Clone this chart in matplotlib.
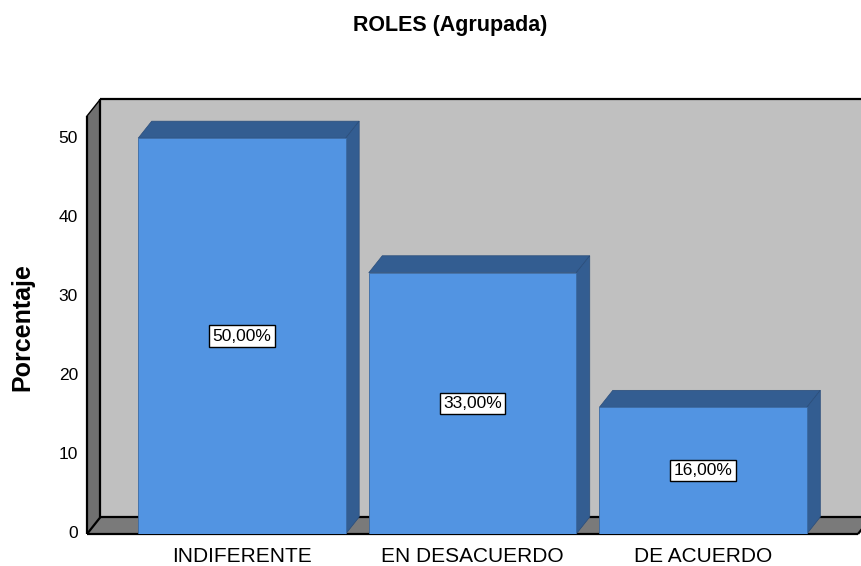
import matplotlib
matplotlib.use("Agg")
import matplotlib.pyplot as plt
from matplotlib.patches import Polygon

categories = ["INDIFERENTE", "EN DESACUERDO", "DE ACUERDO"]
values = [50.0, 33.0, 16.0]
value_labels = ["50,00%", "33,00%", "16,00%"]
yticks = [0, 10, 20, 30, 40, 50]
title = "ROLES (Agrupada)"
ylabel = "Porcentaje"

W, H, DPI = 861, 566, 100
fig = plt.figure(figsize=(W / DPI, H / DPI), dpi=DPI)
plt.rcParams['font.family'] = ['Liberation Sans', 'DejaVu Sans']

# front plane of the 3D box
left_px, right_px = 87, 858
bottom_px, top_px = 534, 116
ax = fig.add_axes([left_px / W, (H - bottom_px) / H,
                   (right_px - left_px) / W, (bottom_px - top_px) / H])
xmin, xmax = -0.672, 2.672
ymin, ymax = 0, 52.8
ax.set_xlim(xmin, xmax)
ax.set_ylim(ymin, ymax)
ax.axis("off")

# depth offset (pixels -> data units)
dpx, dpy = 13.5, 17.0
ddx = dpx * (xmax - xmin) / ax.bbox.width
ddy = dpy * (ymax - ymin) / ax.bbox.height

wall_c = "#c0c0c0"
side_c = "#707070"
floor_c = "#7a7a7a"
front_c = "#5294e2"
dark_c = "#335d91"

def poly(pts, fc, ec="none", lw=0, z=1):
    p = Polygon(pts, closed=True, facecolor=fc, edgecolor=ec, linewidth=lw,
                transform=ax.transData, clip_on=False, zorder=z)
    ax.add_patch(p)

# back wall
poly([(xmin + ddx, ddy), (xmax + ddx, ddy), (xmax + ddx, ymax + ddy),
      (xmin + ddx, ymax + ddy)], wall_c, z=1)
# left side wall
poly([(xmin, 0), (xmin + ddx, ddy), (xmin + ddx, ymax + ddy), (xmin, ymax)],
     side_c, z=1)
# floor
poly([(xmin, 0), (xmax, 0), (xmax + ddx, ddy), (xmin + ddx, ddy)], floor_c, z=1)

# edges
lk = dict(color="black", lw=1.6, clip_on=False, zorder=2, solid_capstyle="butt")
ax.plot([xmin + ddx, xmax + ddx + 1], [ymax + ddy, ymax + ddy], **lk)
ax.plot([xmin + ddx, xmin + ddx], [ddy, ymax + ddy], **lk)
ax.plot([xmin + ddx, xmax + ddx + 1], [ddy, ddy], **lk)
ax.plot([xmin, xmin], [0, ymax], **lk)
ax.plot([xmin, xmin + ddx], [ymax, ymax + ddy], color="black", lw=1.0, clip_on=False, zorder=2)
ax.plot([xmin, xmin + ddx], [0, ddy], **lk)
ax.plot([xmin, xmax], [0, 0], **lk)
ax.plot([xmax, xmax + ddx], [0, ddy], **lk)

# bars
bw = 0.9
xs = list(range(len(categories)))
bars = ax.bar(xs, values, width=bw, color=front_c, edgecolor="#3b6aa3",
              linewidth=0.6, zorder=5)
for b, v in zip(bars, values):
    x0 = b.get_x()
    x1 = x0 + b.get_width()
    # top face
    poly([(x0, v), (x1, v), (x1 + ddx, v + ddy), (x0 + ddx, v + ddy)], dark_c,
         ec="#2a4d7a", lw=0.5, z=4)
    # right side face
    poly([(x1, 0), (x1 + ddx, ddy), (x1 + ddx, v + ddy), (x1, v)], dark_c,
         ec="#2a4d7a", lw=0.5, z=4)

for x, v, lab in zip(xs, values, value_labels):
    ax.text(x, v / 2, lab, ha="center", va="center", fontsize=12.5, zorder=10,
            bbox=dict(boxstyle="square,pad=0.18", facecolor="white",
                      edgecolor="black", linewidth=1.0))

# tick labels
for t in yticks:
    ax.text(xmin - 9 * (xmax - xmin) / ax.bbox.width, t, str(t), ha="right",
            va="center", fontsize=12.5, clip_on=False)

for x, c in zip(xs, categories):
    ax.text(x, -22 * (ymax - ymin) / ax.bbox.height, c, ha="center", va="center",
            fontsize=15, clip_on=False)

fig.text(22 / W, 1 - 327 / H, ylabel, rotation=90, ha="center", va="center",
         fontsize=18, fontweight="bold")
fig.text(450 / W, 1 - 25 / H, title, ha="center", va="center", fontsize=15.5,
         fontweight="bold")

fig.savefig("out.png", dpi=DPI)
